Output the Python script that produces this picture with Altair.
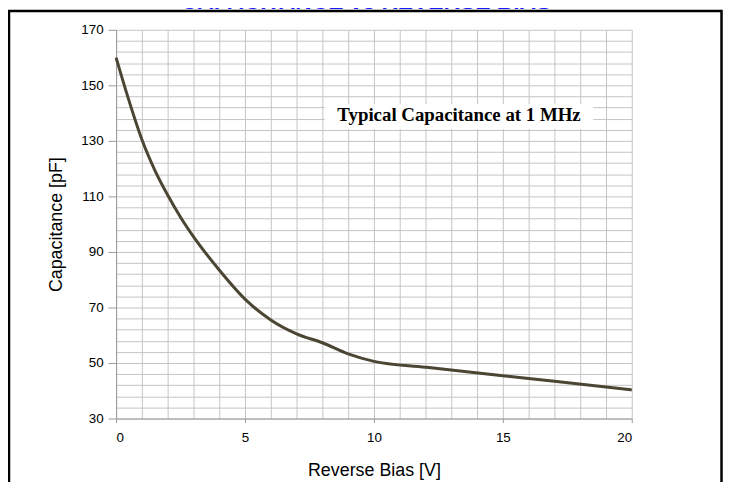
import altair as alt
import pandas as pd

# Curve
bias_v = [0, 0.5, 1, 1.5, 2, 2.5, 3, 4, 5, 6, 7, 8, 9, 10, 12, 15, 17, 20]
cap_pf = [160, 144.5, 130.5, 119.5, 110.5, 102.5, 95.5, 83.5, 73, 65.5, 60.5, 57.3, 53.3, 50.6, 48.5, 45.4, 43.4, 40.3]

x_grid = list(range(0, 21, 1))
y_grid = list(range(30, 171, 4))

title_text = ["CAPACITANCE vs REVERSE BIAS"]
note_text = ["Typical Capacitance at 1 MHz"]
note_x = [13.3]
note_y = [137.1]
note_box_x = [8.1]
note_box_x2 = [18.5]
note_box_y = [143.2]
note_box_y2 = [134.3]

FONT = "Liberation Sans"

curve = pd.DataFrame({"V": bias_v, "C": cap_pf})

x_axis = alt.Axis(
    values=x_grid,
    labelExpr="datum.value % 5 == 0 ? datum.label : ''",
    tickOpacity={"condition": {"test": "datum.value % 5 == 0", "value": 1}, "value": 0},
    tickSize=4,
    tickColor="#999999",
    labelPadding=8,
    labelFontSize=13.5,
    labelFont=FONT,
    labelColor="#000000",
    domainColor="#999999",
    gridColor="#c4c4c4",
    gridWidth=1,
    title="Reverse Bias [V]",
    titleFont=FONT,
    titleFontSize=18,
    titleFontWeight="normal",
    titleColor="#000000",
    titleBaseline="alphabetic",
    titleY=57,
)
y_axis = alt.Axis(
    values=y_grid,
    labelExpr="(datum.value - 30) % 20 == 0 ? datum.label : ''",
    tickOpacity={"condition": {"test": "(datum.value - 30) % 20 == 0", "value": 1}, "value": 0},
    tickSize=8,
    tickColor="#999999",
    labelPadding=5,
    labelFontSize=13.5,
    labelFont=FONT,
    labelColor="#000000",
    domainColor="#999999",
    gridColor="#c4c4c4",
    gridWidth=1,
    title="Capacitance [pF]",
    titleFont=FONT,
    titleFontSize=18,
    titleFontWeight="normal",
    titleColor="#000000",
    titleBaseline="alphabetic",
    titleX=-55,
)

xs = alt.Scale(domain=[0, 20], nice=False, zero=False)
ys = alt.Scale(domain=[30, 170], nice=False, zero=False)

line = alt.Chart(curve).mark_line(
    color="#4b4533", strokeWidth=3, interpolate="monotone"
).encode(
    x=alt.X("V:Q", scale=xs, axis=x_axis),
    y=alt.Y("C:Q", scale=ys, axis=y_axis),
)

note_box_df = pd.DataFrame({"V": note_box_x, "V2": note_box_x2, "C": note_box_y, "C2": note_box_y2})
note_box = alt.Chart(note_box_df).mark_rect(fill="white", stroke=None).encode(
    x=alt.X("V:Q", scale=xs, axis=x_axis),
    x2="V2:Q",
    y=alt.Y("C:Q", scale=ys, axis=y_axis),
    y2="C2:Q",
)

note_df = pd.DataFrame({"V": note_x, "C": note_y, "t": note_text})
note = alt.Chart(note_df).mark_text(
    font="Liberation Serif", fontSize=19, fontWeight="bold", color="#000000",
    align="center", baseline="alphabetic",
).encode(
    x=alt.X("V:Q", scale=xs, axis=x_axis),
    y=alt.Y("C:Q", scale=ys, axis=y_axis),
    text="t:N",
)

one = pd.DataFrame({"t": title_text})
frame = alt.Chart(one).mark_rect(
    fillOpacity=0, stroke="#000000", strokeWidth=2.5
).encode(
    x=alt.value(-108), x2=alt.value(610.5), y=alt.value(-19), y2=alt.value(470)
)

title = alt.Chart(one).mark_text(
    font=FONT, fontSize=23, fontWeight="bold", color="#1a1aff",
    align="center", baseline="alphabetic",
).encode(
    x=alt.value(252), y=alt.value(-21), text="t:N"
)

chart = alt.layer(line, note_box, note, frame, title).properties(
    width=520,
    height=392,
    padding={"left": 109, "top": 20, "right": 92, "bottom": 62},
    autosize=alt.AutoSizeParams(type="none"),
    background="white",
).configure_view(stroke=None)

chart.save("out.html", embed_options={"renderer": "svg", "actions": False})
